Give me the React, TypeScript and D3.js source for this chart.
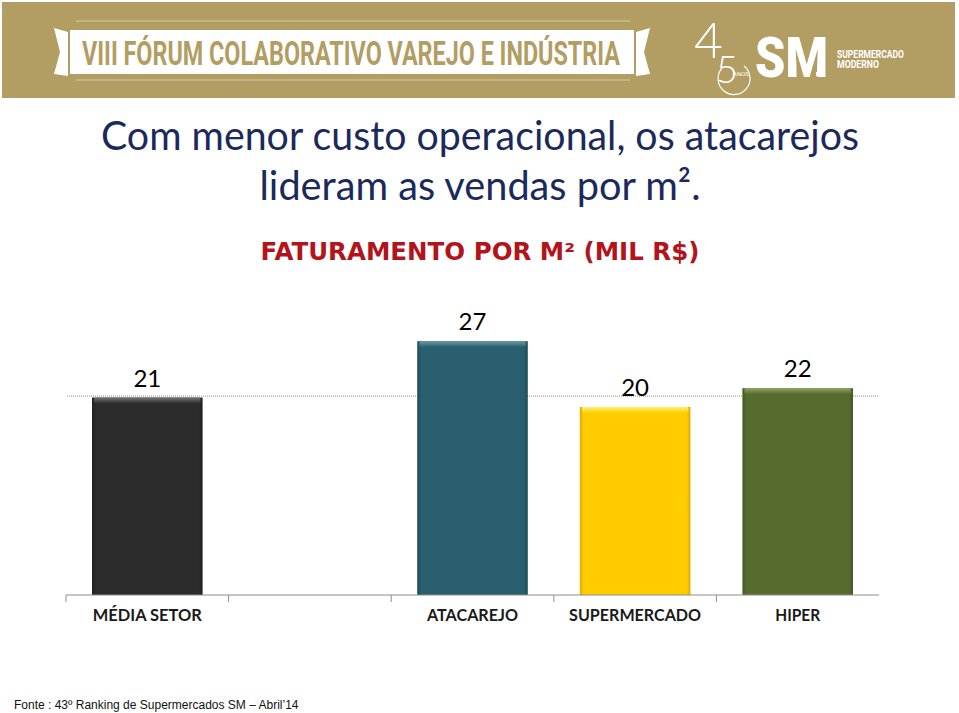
import React from "react";
import * as d3 from "d3";

const categories = ["MÉDIA SETOR", "", "ATACAREJO", "SUPERMERCADO", "HIPER"];
const values: (number | null)[] = [21, null, 27, 20, 22];
const averageValue = 21;
const titleLines = ["Com menor custo operacional, os atacarejos", "lideram as vendas por m²."];
const subtitle = "FATURAMENTO POR M² (MIL R$)";
const footer = "Fonte : 43º Ranking de Supermercados SM – Abril’14";
const bannerText = "VIII FÓRUM COLABORATIVO VAREJO E INDÚSTRIA";

const barColors = ["#2c2c2c", "#ffffff", "#285e6d", "#ffcc00", "#566b2e"];
const barTops = ["#747474", "#ffffff", "#6d9aa6", "#fff07a", "#93a566"];
const barEdges = ["#1e1e1e", "#ffffff", "#1d4c59", "#dcaa00", "#435624"];

const W = 959;
const H = 713;
const tan = "#b29d63";

export default function App() {
  const x = d3
    .scaleBand<string>()
    .domain(categories.map((c, i) => i + ""))
    .range([66, 879])
    .paddingInner(0.32)
    .paddingOuter(0.16);
  const y = d3.scaleLinear().domain([0, 30]).range([595, 313]);
  const step = x.step();
  const bw = x.bandwidth();
  const boundaries = categories.map((_, i) => 66 + i * step);

  return (
    <svg width={W} height={H} style={{ position: "absolute", left: 0, top: 0 }}>
      <defs>
        {barColors.map((c, i) => (
          <linearGradient key={"h" + i} id={"bh" + i} x1="0" x2="1" y1="0" y2="0">
            <stop offset="0" stopColor={barEdges[i]} />
            <stop offset="0.035" stopColor={c} />
            <stop offset="0.965" stopColor={c} />
            <stop offset="1" stopColor={barEdges[i]} />
          </linearGradient>
        ))}
        {barColors.map((c, i) => (
          <linearGradient key={"v" + i} id={"bv" + i} x1="0" x2="0" y1="0" y2="1">
            <stop offset="0" stopColor={barTops[i]} />
            <stop offset="1" stopColor={c} />
          </linearGradient>
        ))}
      </defs>
      <rect x={0} y={0} width={W} height={H} fill="#ffffff" />
      {/* banner */}
      <rect x={2} y={2} width={953} height={96} fill={tan} />
      <line x1={76} x2={630} y1={21} y2={21} stroke="#d6c9a4" strokeWidth={1.2} />
      <line x1={76} x2={630} y1={80} y2={80} stroke="#d6c9a4" strokeWidth={1.2} />
      <polygon points="54,28 68,32 68,76 54,74 60,52" fill="#ffffff" />
      <polygon points="650,28 636,32 636,76 650,74 644,52" fill="#ffffff" />
      <rect x={70} y={30} width={564} height={44} fill="#ffffff" />
      <text
        x={82}
        y={65}
        fontFamily="Roboto, sans-serif"
        fontWeight={700}
        fontSize={33}
        fill={tan}
        textLength={538}
        lengthAdjust="spacingAndGlyphs"
      >
        {bannerText}
      </text>
      {/* logo */}
      <text x={694} y={58} fontFamily="Lato, sans-serif" fontWeight={300} fontSize={50} fill="#ffffff">4</text>
      <text x={716} y={83} fontFamily="Lato, sans-serif" fontWeight={300} fontSize={38} fill="#ffffff">5</text>
      <path d="M722,68 A16,16 0 1,0 744,66" fill="none" stroke="#ffffff" strokeWidth={1.2} />
      <text x={733} y={76} fontFamily="Roboto, sans-serif" fontSize={6} fill="#ffffff">ANOS</text>
      <text
        x={755}
        y={77}
        fontFamily="Roboto, sans-serif"
        fontWeight={900}
        fontSize={56}
        fill="#ffffff"
        textLength={73}
        lengthAdjust="spacingAndGlyphs"
      >
        SM
      </text>
      <rect x={816} y={72} width={8} height={4} fill="#ffffff" />
      <text x={837} y={58} fontFamily="Roboto, sans-serif" fontWeight={700} fontSize={10} fill="#ffffff" textLength={67} lengthAdjust="spacingAndGlyphs">SUPERMERCADO</text>
      <text x={837} y={68} fontFamily="Roboto, sans-serif" fontWeight={700} fontSize={10} fill="#ffffff" textLength={42} lengthAdjust="spacingAndGlyphs">MODERNO</text>

      {/* titles */}
      <text x={480} y={150} textAnchor="middle" fontFamily="Lato, sans-serif" fontSize={40} fill="#1b2a5a" textLength={758} lengthAdjust="spacingAndGlyphs">
        {titleLines[0]}
      </text>
      <text x={480} y={200} textAnchor="middle" fontFamily="Lato, sans-serif" fontSize={40} fill="#1b2a5a" textLength={441} lengthAdjust="spacingAndGlyphs">
        {titleLines[1]}
      </text>
      <text x={480} y={260} textAnchor="middle" fontFamily="'DejaVu Sans', Verdana, sans-serif" fontWeight={700} fontSize={24} fill="#b3141c" textLength={439} lengthAdjust="spacingAndGlyphs">
        {subtitle}
      </text>

      {/* average dotted line */}
      <line x1={67} x2={878} y1={y(averageValue) - 1.5} y2={y(averageValue) - 1.5} stroke="#9c8585" strokeWidth={1} strokeDasharray="1,1" />

      {/* bars */}
      {values.map((v, i) => {
        if (v == null) return null;
        const bx = x(i + "")!;
        const by = y(v);
        const bh = y(0) - by;
        return (
          <g key={i}>
            <rect x={bx} y={by} width={bw} height={bh} fill={`url(#bh${i})`} />
            <rect x={bx + 2} y={by} width={bw - 4} height={6} rx={2} fill={`url(#bv${i})`} />
            <text x={bx + bw / 2} y={by - 11} textAnchor="middle" fontFamily="Lato, sans-serif" fontSize={24} fill="#000000">
              {v}
            </text>
          </g>
        );
      })}

      {/* axis */}
      <line x1={66} x2={879} y1={595} y2={595} stroke="#8c8c8c" strokeWidth={1} />
      {boundaries.map((b, i) => (
        <line key={i} x1={b} x2={b} y1={595} y2={602} stroke="#8c8c8c" strokeWidth={1} />
      ))}
      {categories.map((c, i) =>
        c ? (
          <text key={c} x={x(i + "")! + bw / 2} y={621} textAnchor="middle" fontFamily="Lato, sans-serif" fontWeight={700} fontSize={17} fill="#1a1a1a" textLength={[109, 0, 91, 132, 45][i]} lengthAdjust="spacingAndGlyphs">
            {c}
          </text>
        ) : null
      )}

      <text x={14} y={709} fontFamily="'Liberation Sans', Arial, sans-serif" fontSize={12} fill="#111111">
        {footer}
      </text>
    </svg>
  );
}
